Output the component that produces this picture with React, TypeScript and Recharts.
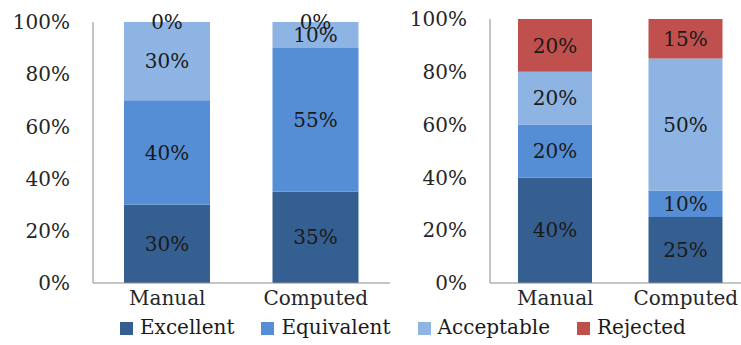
import { BarChart, Bar, XAxis, YAxis, LabelList, Cell } from "recharts";

const categories = ["Manual", "Computed"];
const seriesNames = ["Excellent", "Equivalent", "Acceptable", "Rejected"];
const colors = ["#365F91", "#558ED5", "#8DB4E2", "#C0504D"];
const yTicks = [0, 20, 40, 60, 80, 100];

// left panel
const leftExcellent = [30, 35];
const leftEquivalent = [40, 55];
const leftAcceptable = [30, 10];
const leftRejected = [0, 0];

// right panel
const rightExcellent = [40, 25];
const rightEquivalent = [20, 10];
const rightAcceptable = [20, 50];
const rightRejected = [20, 15];

const font = "DejaVu Serif";
const fs = 20;

function buildRows(series: number[][]) {
  return categories.map((name, i) => {
    const row: Record<string, string | number> = { name };
    seriesNames.forEach((s, k) => {
      row[s] = series[k][i];
    });
    return row;
  });
}

const leftData = buildRows([leftExcellent, leftEquivalent, leftAcceptable, leftRejected]);
const rightData = buildRows([rightExcellent, rightEquivalent, rightAcceptable, rightRejected]);

interface PanelProps {
  data: Record<string, string | number>[];
  width: number;
  top: number;
  yWidth: number;
  barSize: number;
}

function Panel({ data, width, top, yWidth, barSize }: PanelProps) {
  return (
    <BarChart
      width={width}
      height={345}
      data={data}
      margin={{ top, right: 0, bottom: 0, left: 0 }}
      barSize={barSize}
    >
      <XAxis
        dataKey="name"
        height={62}
        tickLine={false}
        tickSize={0}
        tickMargin={8}
        axisLine={{ stroke: "#8c8c8c" }}
        tick={{ fill: "#262626", fontSize: fs, fontFamily: font }}
      />
      <YAxis
        width={yWidth}
        domain={[0, 100]}
        ticks={yTicks}
        tickFormatter={(v: number) => `${v}%`}
        tickLine={false}
        tickSize={0}
        tickMargin={23}
        axisLine={{ stroke: "#8c8c8c" }}
        tick={{ fill: "#262626", fontSize: fs, fontFamily: font }}
      />
      {seriesNames.map((s, k) => (
        <Bar
          key={s}
          dataKey={s}
          stackId="a"
          fill={colors[k]}
          minPointSize={k === 3 ? 1 : 0}
          isAnimationActive={false}
        >
          {data.map((row, i) => (
            <Cell key={i} fill={row[s] === 0 ? "transparent" : colors[k]} />
          ))}
          <LabelList
            dataKey={s}
            position="center"
            formatter={(v: any) => `${v}%`}
            style={{ fill: "#1a1a1a", fontSize: fs, fontFamily: font }}
          />
        </Bar>
      ))}
    </BarChart>
  );
}

export default function App() {
  return (
    <div
      style={{
        position: "absolute",
        left: 0,
        top: 0,
        width: 741,
        height: 345,
        overflow: "hidden",
        background: "#fff",
      }}
    >
      <div style={{ position: "absolute", left: 0, top: 0 }}>
        <Panel data={leftData} width={390} top={22} yWidth={93} barSize={86} />
      </div>
      <div style={{ position: "absolute", left: 395, top: 0 }}>
        <Panel data={rightData} width={356} top={19} yWidth={95} barSize={74} />
      </div>
      <div
        style={{
          position: "absolute",
          left: 120,
          top: 315,
          display: "flex",
          gap: 27,
          fontFamily: font,
          fontSize: fs,
          color: "#1a1a1a",
          whiteSpace: "nowrap",
        }}
      >
        {seriesNames.map((s, k) => (
          <div key={s} style={{ display: "flex", alignItems: "center" }}>
            <span
              style={{
                display: "inline-block",
                width: 13,
                height: 13,
                background: colors[k],
                marginRight: 7,
                marginTop: 2,
              }}
            />
            <span>{s}</span>
          </div>
        ))}
      </div>
    </div>
  );
}
